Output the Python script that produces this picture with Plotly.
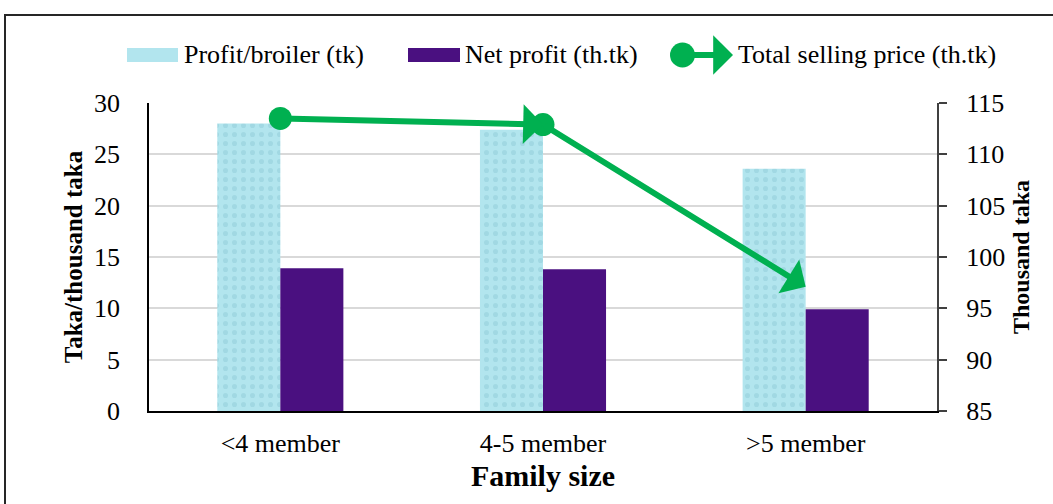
import plotly.graph_objects as go

# Data
categories = ["<4 member", "4-5 member", ">5 member"]
profit_per_broiler = [28.0, 27.4, 23.6]      # tk
net_profit = [13.9, 13.8, 9.9]               # thousand tk
total_selling_price = [113.5, 112.9, 97.1]   # thousand tk

# Styling
W, H = 1053, 504
ML, MR, MT, MB = 149, 116, 103, 93
FONT = "Liberation Serif, Times New Roman, serif"
CYAN = "#B2E5EE"
CYAN_DOT = "#8FCCD8"
PURPLE = "#4A1080"
GREEN = "#00B050"

PW = W - ML - MR
PH = H - MT - MB


def px2x(px):
    return (px - ML) / PW


def py2y(py):
    return (H - MB - py) / PH


fig = go.Figure()

fig.add_trace(go.Bar(
    x=list(range(len(categories))), y=profit_per_broiler, name="Profit/broiler (tk)",
    marker=dict(color=CYAN, line=dict(width=0),
                pattern=dict(shape=".", bgcolor=CYAN, fgcolor=CYAN_DOT,
                             size=9, solidity=0.25)),
    showlegend=False,
))
fig.add_trace(go.Bar(
    x=list(range(len(categories))), y=net_profit, name="Net profit (th.tk)",
    marker=dict(color=PURPLE, line=dict(width=0)),
    showlegend=False,
))

# circle markers at the start of each arrow segment
fig.add_trace(go.Scatter(
    x=list(range(len(categories) - 1)), y=total_selling_price[:-1],
    yaxis="y2", mode="markers", name="Total selling price (th.tk)",
    marker=dict(color=GREEN, size=23, line=dict(width=0)),
    showlegend=False,
))

annotations = []
# arrow segments between consecutive points
for i in range(len(categories) - 1):
    annotations.append(dict(
        x=i + 1, y=total_selling_price[i + 1], xref="x", yref="y2",
        ax=i, ay=total_selling_price[i], axref="x", ayref="y2",
        text="", showarrow=True, arrowhead=1, arrowsize=1.1,
        arrowwidth=6, arrowcolor=GREEN, standoff=0, startstandoff=0,
    ))

# custom legend
legend_y = 55
shapes = [
    dict(type="rect", xref="paper", yref="paper",
         x0=px2x(127), x1=px2x(178), y0=py2y(62), y1=py2y(48),
         fillcolor=CYAN, line=dict(width=0)),
    dict(type="rect", xref="paper", yref="paper",
         x0=px2x(408), x1=px2x(460), y0=py2y(62), y1=py2y(48),
         fillcolor=PURPLE, line=dict(width=0)),
    dict(type="circle", xref="paper", yref="paper",
         x0=px2x(670), x1=px2x(695), y0=py2y(legend_y + 12.5), y1=py2y(legend_y - 12.5),
         fillcolor=GREEN, line=dict(width=0)),
    # outer frame
    dict(type="rect", xref="paper", yref="paper",
         x0=px2x(5), x1=px2x(1070), y0=py2y(530), y1=py2y(15),
         fillcolor="rgba(0,0,0,0)", line=dict(color="#262626", width=2)),
]
annotations.append(dict(
    x=px2x(733), y=py2y(legend_y), xref="paper", yref="paper",
    ax=-51, ay=0, text="", showarrow=True, arrowhead=1, arrowsize=1.1,
    arrowwidth=6, arrowcolor=GREEN, standoff=0,
))
for label, px in [("Profit/broiler (tk)", 182),
                  ("Net profit (th.tk)", 463),
                  ("Total selling price (th.tk)", 736)]:
    annotations.append(dict(
        x=px2x(px), y=py2y(legend_y), xref="paper", yref="paper",
        text=label, showarrow=False, xanchor="left", yanchor="middle",
        font=dict(family=FONT, size=26, color="black"),
    ))

fig.update_layout(
    width=W, height=H,
    margin=dict(l=ML, r=MR, t=MT, b=MB, pad=0),
    paper_bgcolor="white", plot_bgcolor="white",
    barmode="group", bargap=0.52, bargroupgap=0,
    font=dict(family=FONT, size=26, color="black"),
    xaxis=dict(
        tickmode="array", tickvals=list(range(len(categories))), ticktext=categories,
        range=[-0.5, len(categories) - 0.5],
        showline=True, linecolor="black", linewidth=2, ticks="",
        showgrid=False, zeroline=False, ticklabelstandoff=8,
        tickfont=dict(family=FONT, size=26, color="black"),
        title=dict(text="<b>Family size</b>", standoff=8,
                   font=dict(family=FONT, size=30, color="black")),
    ),
    yaxis=dict(
        range=[0, 30], dtick=5, showline=True, linecolor="black", linewidth=1.5,
        ticks="", showgrid=True, gridcolor="#D9D9D9", gridwidth=1.5,
        zeroline=False, ticklabelstandoff=22,
        tickfont=dict(family=FONT, size=26, color="black"),
        title=dict(text="<b>Taka/thousand taka</b>", standoff=4,
                   font=dict(family=FONT, size=25, color="black")),
    ),
    yaxis2=dict(
        range=[85, 115], dtick=5, overlaying="y", side="right",
        showline=True, linecolor="#404040", linewidth=2,
        ticks="outside", ticklen=8, tickwidth=2, tickcolor="#404040",
        showgrid=False, zeroline=False, ticklabelstandoff=14,
        tickfont=dict(family=FONT, size=26, color="black"),
        title=dict(text="<b>Thousand taka</b>", standoff=8,
                   font=dict(family=FONT, size=24, color="black")),
    ),
    shapes=shapes,
    annotations=annotations,
    showlegend=False,
)

fig.write_html("out.html")
